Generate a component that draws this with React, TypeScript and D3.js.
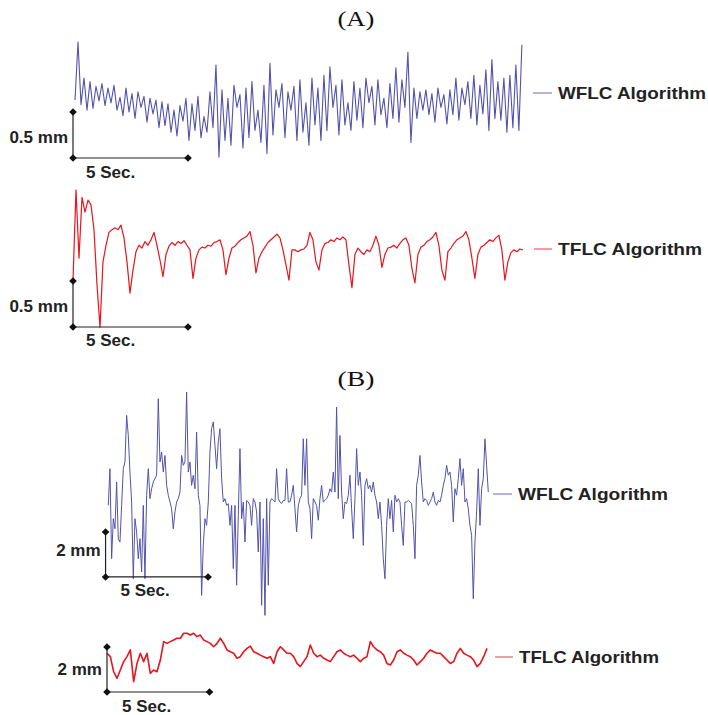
import React from 'react';
import * as d3 from 'd3';

// ---- Data (displacement in mm, sampled at uniform time steps) ----
// Panel A, WFLC output (dt ≈ 0.1304 s)
const A_WFLC: number[] = [
  0.13,0.76,0.08,0.37,0.02,0.33,0.04,0.28,0.12,0.31,
  0.07,0.26,0.10,0.29,0.02,0.16,-0.04,0.26,0,0.20,
  -0.07,0.22,0.05,0.17,-0.11,0.15,-0.02,0.13,-0.17,0.11,
  -0.15,0.09,-0.22,0.02,-0.26,0.07,-0.10,0.15,-0.31,0.09,
  -0.20,0.17,-0.28,-0.05,-0.22,0.22,-0.17,0.51,-0.49,0.24,
  -0.31,0.15,-0.36,0.29,0.05,0.19,-0.39,0.26,-0.28,0.33,
  -0.20,0.02,-0.33,0.29,-0.45,0.53,-0.25,0.24,0.05,0.31,
  -0.28,0.22,0.02,0.28,-0.31,0.35,-0.22,0.10,-0.36,0.37,
  -0.14,0.26,-0.31,0.40,-0.20,0.49,0.05,0.29,-0.25,0.35,
  -0.14,0.10,-0.20,0.33,-0.09,0.26,-0.17,0.37,0.10,0.28,
  -0.14,0.35,-0.03,0.15,-0.17,0.31,-0.07,0.48,-0.11,0.35,
  0.05,0.65,-0.33,0.26,-0.07,0.22,0.02,0.24,-0.03,0.20,
  -0.11,0.26,0.05,0.19,-0.13,0.24,-0.03,0.37,-0.09,0.26,
  0.08,0.33,-0.07,0.40,-0.14,0.29,-0.02,0.46,-0.20,0.57,
  -0.07,0.33,-0.09,0.37,-0.22,0.40,-0.17,0.51,-0.20,0.73,
];

// Panel A, TFLC output (dt ≈ 0.1304 s)
const A_TFLC: number[] = [
  0.03,1.01,0.27,0.93,0.77,0.90,0.85,0.58,-0.02,-0.48,
  0.23,0.41,0.55,0.58,0.60,0.58,0.63,0.49,0.23,-0.11,
  0.14,0.34,0.41,0.38,0.45,0.41,0.47,0.55,0.41,0.25,
  0.07,0.31,0.40,0.44,0.41,0.45,0.43,0.46,0.41,0.36,
  0.05,0.27,0.36,0.39,0.38,0.41,0.40,0.44,0.45,0.47,
  0.36,0.09,0.27,0.38,0.40,0.44,0.47,0.49,0.51,0.56,
  0.41,0.11,0.27,0.34,0.39,0.44,0.47,0.50,0.53,0.49,
  0.36,0.20,0.03,0.36,0.36,0.34,0.36,0.37,0.41,0.55,
  0.47,0.23,0.14,0.36,0.43,0.44,0.47,0.45,0.49,0.47,
  0.50,0.47,0.20,-0.05,0.31,0.38,0.34,0.31,0.36,0.34,
  0.41,0.51,0.41,0.17,0.31,0.38,0.39,0.41,0.38,0.43,
  0.47,0.49,0.41,0.16,0,0.31,0.39,0.41,0.45,0.47,
  0.50,0.55,0.41,0.14,0.03,0.34,0.38,0.43,0.47,0.49,
  0.51,0.56,0.47,0.27,0.05,0.31,0.39,0.41,0.44,0.47,
  0.45,0.49,0.52,0.36,0.03,0.23,0.33,0.36,0.34,0.37,
  0.36,
];

// Panel B, WFLC output (dt ≈ 0.0813 s)
const B_WFLC: number[] = [
  -0.15,1.48,-2.52,-0.74,-1.19,0.89,-1.63,-1.78,-0.15,1.48,
  1.78,3.85,2.96,1.33,0,-3.41,-0.74,-1.33,-2.52,-1.63,
  -3.11,-0.15,-3.41,0.30,1.48,0.15,0.59,0.89,1.04,1.19,
  4.59,1.78,2.22,1.33,2.07,0.74,0.30,0,-0.30,-1.19,
  -0.44,0,0.15,0.44,2.07,1.63,1.78,4.89,1.33,1.78,
  0.74,1.19,0.59,3.11,0.30,-0.15,-4.15,-1.93,-0.74,-1.04,
  0,2.22,3.26,3.56,2.52,1.48,2.67,3.26,1.04,0,
  0.15,-0.15,-0.07,-1.04,-0.15,-2.96,-0.15,-3.70,-0.59,2.37,
  -0.74,0,-1.78,0.07,0,-0.15,-1.04,0.15,0,-0.44,
  -2.22,0,-4.59,-0.74,-5.04,0.15,-3.70,0,0.15,0.07,
  0,1.48,0.15,0,-0.07,0.07,0.07,1.48,0,0,
  0.30,0.74,-0.30,-1.33,-0.15,0.15,0.30,2.81,0.74,2.81,
  0,-0.30,-1.63,0.15,0,-0.15,-0.81,0.15,0.74,0,
  0.07,0.15,0.30,0.59,0.44,1.33,0.44,4.22,0.15,2.96,
  0.44,-0.74,0,-0.07,0.30,1.19,-0.30,-1.63,0.15,2.37,
  0.74,1.33,0.30,-1.93,0.74,1.04,0.59,0.74,0.44,0.89,
  0.30,0,-0.74,0,-1.04,-2.52,-3.41,-1.04,0.15,-0.74,
  0.07,-1.33,0.30,0,0.15,0,-1.04,-1.93,0,0,
  0.07,0,-0.07,-1.04,-2.52,0.74,1.19,2.07,0.89,0,
  0.15,0.07,-0.15,0,0.15,0.44,0,-0.15,0.07,0,
  0.30,0.74,1.04,1.63,1.19,1.33,0.74,-0.89,0.59,0.30,
  1.04,1.93,0.74,1.48,0,0.15,-0.30,-1.04,-1.48,-4.30,
  -1.78,-0.44,1.48,-1.04,0.59,1.04,2.81,1.63,0.44,
];

// Panel B, TFLC output (dt ≈ 0.1626 s)
const B_TFLC: number[] = [
  1.72,1.57,0.90,0.61,0.98,1.35,1.57,1.87,0.46,1.27,
  1.72,1.35,1.72,0.83,0.98,0.90,1.42,2.24,2.16,2.24,
  2.31,2.39,2.39,2.61,2.61,2.53,2.61,2.46,2.53,2.31,
  2.24,2.16,2.01,2.16,2.39,2.16,1.87,1.79,1.72,1.50,
  1.57,1.79,1.94,2.04,1.79,1.72,1.64,1.57,1.50,1.57,
  1.27,1.79,2.01,1.87,1.72,1.72,1.57,1.27,1.13,1.35,
  1.57,2.09,1.72,1.57,1.64,1.50,1.42,1.35,1.57,1.79,
  1.87,1.72,1.64,1.57,1.64,1.50,1.35,1.50,1.57,2.24,
  2.01,1.87,1.79,1.64,1.27,1.20,1.42,1.79,1.87,1.72,
  1.64,1.57,1.42,1.20,1.35,1.50,1.72,1.87,1.79,1.72,
  1.72,1.57,1.42,1.27,1.35,1.72,1.94,1.72,1.64,1.57,
  1.42,1.13,1.27,1.57,1.94,
];

const PANEL_TITLES = ['(A)', '(B)'];
const SERIES_NAMES = ['WFLC Algorithm', 'TFLC Algorithm'];
const TIME_BAR_LABEL = '5 Sec.';
const TIME_BAR_SEC = 5;

const BLUE = '#5252ac';
const BLUE_LEGEND = '#9a9ad0';
const RED = '#e8141c';
const RED_LEGEND = '#f07c80';

type TraceSpec = {
  data: number[];
  t0: number;
  dt: number;
  x: d3.ScaleLinear<number, number>;
  y: d3.ScaleLinear<number, number>;
  color: string;
  width: number;
  legendColor: string;
  name: string;
  legendX: number;
  legendY: number;
  legendLen: number;
  textLen: number;
  barT: number;
  barBase: number;
  barMm: number;
  barLabel: string;
  mmLabelY: number;
  secLabelDx: number;
};

const diamond = (cx: number, cy: number, r = 3.8) =>
  `M${cx},${cy - r}L${cx + r},${cy}L${cx},${cy + r}L${cx - r},${cy}Z`;

export default function App() {
  const xA = d3.scaleLinear().domain([0, 5]).range([73, 188]);
  const xB = d3.scaleLinear().domain([0, 5]).range([107, 209.5]);
  const yAW = d3.scaleLinear().domain([0, 0.5]).range([112, 66]);
  const yAT = d3.scaleLinear().domain([0, 0.5]).range([283, 237]);
  const yBW = d3.scaleLinear().domain([0, 2]).range([502, 457]);
  const yBT = d3.scaleLinear().domain([0, 2]).range([692, 647]);

  const traces: TraceSpec[] = [
    {
      data: A_WFLC, t0: 0.087, dt: 0.1304, x: xA, y: yAW, color: BLUE, width: 1.1,
      legendColor: BLUE_LEGEND, name: SERIES_NAMES[0], legendX: 533, legendY: 93, legendLen: 19, textLen: 148,
      barT: 0, barBase: -0.5, barMm: 0.5, barLabel: '0.5 mm', mmLabelY: 143, secLabelDx: 13,
    },
    {
      data: A_TFLC, t0: 0, dt: 0.1304, x: xA, y: yAT, color: RED, width: 1.2,
      legendColor: RED_LEGEND, name: SERIES_NAMES[1], legendX: 534, legendY: 249, legendLen: 18, textLen: 144,
      barT: 0, barBase: -0.478, barMm: 0.5, barLabel: '0.5 mm', mmLabelY: 312, secLabelDx: 13,
    },
    {
      data: B_WFLC, t0: 0.063, dt: 0.0813, x: xB, y: yBW, color: BLUE, width: 1,
      legendColor: BLUE_LEGEND, name: SERIES_NAMES[0], legendX: 493, legendY: 494, legendLen: 19, textLen: 150,
      barT: -0.07, barBase: -3.33, barMm: 2, barLabel: '2 mm', mmLabelY: 556, secLabelDx: 15,
    },
    {
      data: B_TFLC, t0: 0, dt: 0.1626, x: xB, y: yBT, color: RED, width: 1.6,
      legendColor: RED_LEGEND, name: SERIES_NAMES[1], legendX: 495, legendY: 657, legendLen: 18, textLen: 140,
      barT: 0, barBase: 0, barMm: 2, barLabel: '2 mm', mmLabelY: 675, secLabelDx: 15,
    },
  ];

  const labelFont = "'Liberation Sans', Arial, Helvetica, sans-serif";

  return (
    <svg width={708} height={715} viewBox="0 0 708 715"
      style={{ display: 'block', position: 'absolute', left: 0, top: 0, background: '#fff' }}>
      <defs>
        <filter id="soft" x="-5%" y="-5%" width="110%" height="110%">
          <feGaussianBlur stdDeviation="0.35" />
        </filter>
      </defs>
      <rect x={0} y={0} width={708} height={715} fill="#fff" />
      <text x={356} y={26} textAnchor="middle" fontFamily="'Liberation Serif', 'Times New Roman', serif"
        fontSize={22} textLength={37} lengthAdjust="spacingAndGlyphs" fill="#111">{PANEL_TITLES[0]}</text>
      <text x={356} y={386} textAnchor="middle" fontFamily="'Liberation Serif', 'Times New Roman', serif"
        fontSize={22} textLength={37} lengthAdjust="spacingAndGlyphs" fill="#111">{PANEL_TITLES[1]}</text>

      {traces.map((tr, k) => {
        const line = d3.line<number>()
          .x((_, i) => tr.x(tr.t0 + i * tr.dt))
          .y((d) => tr.y(d));
        const bx = tr.x(tr.barT);
        const bx2 = tr.x(tr.barT + TIME_BAR_SEC);
        const byBottom = tr.y(tr.barBase);
        const byTop = tr.y(tr.barBase + tr.barMm);
        return (
          <g key={k}>
            <path d={line(tr.data) || ''} fill="none" stroke={tr.color} strokeWidth={tr.width}
              strokeLinejoin="round" filter="url(#soft)" />
            {/* scale bars */}
            <path d={`M${bx},${byTop}L${bx},${byBottom}L${bx2},${byBottom}`} fill="none"
              stroke="#222" strokeWidth={1.2} />
            <path d={diamond(bx, byTop)} fill="#111" />
            <path d={diamond(bx, byBottom)} fill="#111" />
            <path d={diamond(bx2, byBottom)} fill="#111" />
            <text x={bx - 5} y={tr.mmLabelY} textAnchor="end" fontFamily={labelFont} fontWeight="bold"
              fontSize={17} fill="#222">{tr.barLabel}</text>
            <text x={bx + tr.secLabelDx} y={byBottom + 19.5} fontFamily={labelFont} fontWeight="bold"
              fontSize={17} fill="#222">{TIME_BAR_LABEL}</text>
            {/* legend */}
            <line x1={tr.legendX} x2={tr.legendX + tr.legendLen} y1={tr.legendY} y2={tr.legendY}
              stroke={tr.legendColor} strokeWidth={1.5} />
            <text x={tr.legendX + tr.legendLen + 6} y={tr.legendY + 6} fontFamily={labelFont}
              fontWeight="bold" fontSize={17} textLength={tr.textLen} lengthAdjust="spacingAndGlyphs"
              fill="#222">{tr.name}</text>
          </g>
        );
      })}
    </svg>
  );
}
